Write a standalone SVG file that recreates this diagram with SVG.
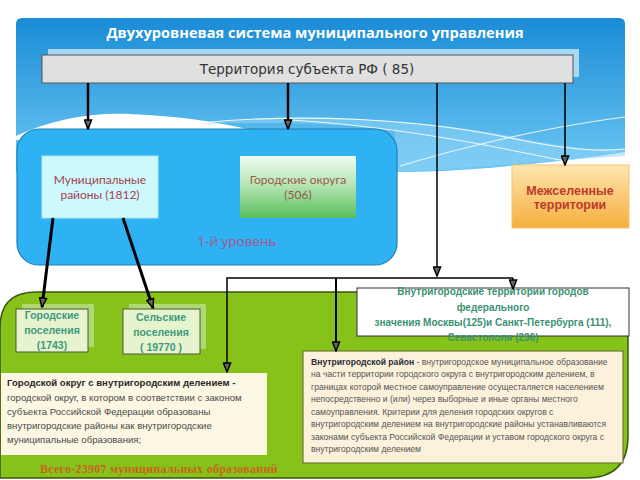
<svg xmlns="http://www.w3.org/2000/svg" width="640" height="480" viewBox="0 0 640 480">
<defs>
  <linearGradient id="sky" x1="0" y1="0" x2="0" y2="1">
    <stop offset="0" stop-color="#1a8cd6"/>
    <stop offset="1" stop-color="#6ec8f3"/>
  </linearGradient>
  <linearGradient id="gGreen" x1="0" y1="0" x2="0" y2="1">
    <stop offset="0" stop-color="#f0fbf0"/>
    <stop offset="0.45" stop-color="#b8e6b8"/>
    <stop offset="1" stop-color="#58bf5a"/>
  </linearGradient>
  <linearGradient id="gOrange" x1="0" y1="0" x2="0" y2="1">
    <stop offset="0" stop-color="#fde6b0"/>
    <stop offset="1" stop-color="#f6ae3c"/>
  </linearGradient>
  <marker id="arr" viewBox="0 0 12 10" refX="11" refY="5" markerWidth="11" markerHeight="9" markerUnits="userSpaceOnUse" orient="auto">
    <path d="M1,1 L11,5 L1,9 Z" fill="#666" stroke="#000" stroke-width="1.6" stroke-linejoin="miter"/>
  </marker>
  <style>
    .title{font-family:"Open Sans","Liberation Sans",sans-serif;font-weight:bold;font-size:14.6px;fill:#fff}
    .terr{font-family:"DejaVu Sans",sans-serif;font-size:13.5px;fill:#333}
    .lvl{font-family:Lato,"Open Sans",sans-serif;font-size:12px;fill:#a3424f}
    .lvlgo{font-family:Lato,"Open Sans",sans-serif;font-size:12px;fill:#9a5a4a}
    .lvl1{font-family:"Open Sans",sans-serif;font-size:13.5px;fill:#a8568a}
    .mezh{font-family:"Liberation Sans",Arial,sans-serif;font-weight:bold;font-size:12.5px;fill:#c0392b}
    .pos{font-family:"Liberation Sans",Arial,sans-serif;font-weight:bold;font-size:10.5px;fill:#3f9a7c}
    .vt{font-family:"Liberation Sans",Arial,sans-serif;font-weight:bold;font-size:10px;fill:#3a9272}
    .def{font-family:"Liberation Sans",Arial,sans-serif;font-size:9.6px;fill:#4a4a4a}
    .defb{font-weight:bold;fill:#2a2a2a}
    .small{font-family:"Liberation Sans",Arial,sans-serif;font-size:8.6px;fill:#555}
    .smallb{font-weight:bold;fill:#2a2a3a}
    .total{font-family:"Liberation Serif","Times New Roman",serif;font-weight:bold;font-size:12px;fill:#c6651c;letter-spacing:0.25px}
    .cn{fill:none;stroke:#000}
  </style>
</defs>

<rect x="0" y="0" width="640" height="480" fill="#fff"/>

<!-- sky background -->
<g id="background">
  <path d="M16,24 Q16,18 22,18 H619 Q625,18 625,24 V152 C590,158 520,166 460,170 C430,172 405,172 395,172 H16 Z" fill="url(#sky)"/>
  <path d="M16,136 C50,120 90,112 130,114 C180,116 220,122 260,132 L16,140 Z" fill="#fff"/>
  <path d="M200,124 C300,112 420,118 520,138 C560,146 600,152 625,150 V156 C560,160 470,168 395,172 L395,130 C330,122 260,122 200,124 Z" fill="#8fd3f5" opacity="0.55"/>
  <path d="M200,123 C300,113 420,118 520,140 C560,148 600,152 625,149" fill="none" stroke="#fff" stroke-width="1.2" opacity="0.9"/>
  <path d="M290,120 C360,124 440,136 500,148 C530,154 560,160 580,164" fill="none" stroke="#fff" stroke-width="1" opacity="0.85"/>
  <path d="M400,166 C460,148 540,128 625,117" fill="none" stroke="#fff" stroke-width="1" opacity="0.85"/>
</g>

<text class="title" x="315" y="38" text-anchor="middle">Двухуровневая система муниципального управления</text>

<g id="territory">
  <rect x="48" y="49" width="531" height="28" fill="#a9d8f5"/>
  <rect x="42" y="55" width="531" height="28" fill="#e0e0e0" stroke="#555" stroke-width="1"/>
  <text class="terr" x="307" y="74" text-anchor="middle">Территория субъекта РФ ( 85)</text>
</g>

<!-- green lower area -->
<g id="level2-area">
  <path d="M0,328 Q0,292 36,292 H628 V436 Q628,478 586,478 H0 Z" fill="#87c21a" stroke="#3e5410" stroke-width="1.5"/>
</g>

<g id="level1">
  <rect x="17" y="129" width="380" height="136" rx="22" fill="#2eb2f4" stroke="#1d7fb8" stroke-width="1.2"/>
  <text class="lvl1" x="237" y="246" text-anchor="middle">1-й уровень</text>
</g>

<g id="mun-rayony">
  <rect x="42" y="156" width="116" height="62" fill="#cdf8fc" stroke="#b0e8f0" stroke-width="1"/>
  <text class="lvl" x="100" y="184" text-anchor="middle">Муниципальные</text>
  <text class="lvl" x="100" y="199" text-anchor="middle">районы (1812)</text>
</g>

<g id="gor-okruga">
  <rect x="240" y="156" width="116" height="62" fill="url(#gGreen)"/>
  <text class="lvlgo" x="298" y="184" text-anchor="middle">Городские округа</text>
  <text class="lvlgo" x="298" y="199" text-anchor="middle">(506)</text>
</g>

<g id="mezhselennye">
  <rect x="512" y="165" width="117" height="63" fill="url(#gOrange)" stroke="#f7c46e" stroke-width="1"/>
  <text class="mezh" x="570" y="195" text-anchor="middle">Межселенные</text>
  <text class="mezh" x="570" y="209" text-anchor="middle">территории</text>
</g>

<g id="gor-poseleniya">
  <rect x="22" y="304" width="72" height="43" fill="#b9dd88" opacity="0.8"/>
  <rect x="16" y="309" width="72" height="43" fill="#e6f3cf" stroke="#4b5a33" stroke-width="1"/>
  <text class="pos" x="52" y="319" text-anchor="middle">Городские</text>
  <text class="pos" x="52" y="334" text-anchor="middle">поселения</text>
  <text class="pos" x="52" y="349" text-anchor="middle">(1743)</text>
</g>

<g id="sel-poseleniya">
  <rect x="129" y="304" width="77" height="45" fill="#b9dd88" opacity="0.8"/>
  <rect x="123" y="309" width="77" height="45" fill="#e6f3cf" stroke="#4b5a33" stroke-width="1"/>
  <text class="pos" x="161" y="321" text-anchor="middle">Сельские</text>
  <text class="pos" x="161" y="336" text-anchor="middle">поселения</text>
  <text class="pos" x="161" y="351" text-anchor="middle">( 19770 )</text>
</g>

<g id="vnutr-territorii">
  <rect x="357" y="288" width="272" height="48" fill="#fff" stroke="#333" stroke-width="1"/>
  <text class="vt" x="493" y="295" text-anchor="middle">Внутригородские территории городов</text>
  <text class="vt" x="493" y="311" text-anchor="middle">федерального</text>
  <text class="vt" x="493" y="326" text-anchor="middle">значения Москвы(125)и Санкт-Петербурга (111),</text>
  <text class="vt" x="493" y="341" text-anchor="middle">Севастополя (236)</text>
</g>

<g id="gor-okrug-def">
  <rect x="1" y="373" width="266" height="82" fill="#fcf7e2"/>
  <text class="def defb" x="7" y="386">Городской округ с внутригородским делением -</text>
  <text class="def" x="7" y="401">городской округ, в котором в соответствии с законом</text>
  <text class="def" x="7" y="415">субъекта Российской Федерации образованы</text>
  <text class="def" x="7" y="429">внутригородские районы как внутригородские</text>
  <text class="def" x="7" y="443">муниципальные образования;</text>
</g>

<g id="vnutr-rayon">
  <rect x="303" y="351" width="320" height="112" fill="#fcf2dc" stroke="#6f7a33" stroke-width="1.2"/>
  <text class="small" x="311" y="365"><tspan class="smallb">Внутригородской район</tspan> - внутригородское муниципальное образование</text>
  <text class="small" x="311" y="377">на части территории городского округа с внутригородским делением, в</text>
  <text class="small" x="311" y="390">границах которой местное самоуправление осущесталяется населением</text>
  <text class="small" x="311" y="402">непосредственно и (или) через выборные и иные органы местного</text>
  <text class="small" x="311" y="415">самоуправления. Критерии для деления городских округов с</text>
  <text class="small" x="311" y="427">внутригородским делением на внутригородские районы устанавливаются</text>
  <text class="small" x="311" y="440">законами субъекта Российской Федерации и уставом городского округа с</text>
  <text class="small" x="311" y="452">внутригородским делением</text>
</g>

<text class="total" x="40" y="473">Всего-23907  муниципальных образований</text>

<g id="connectors">
  <line class="cn" x1="88" y1="83" x2="88" y2="129" stroke-width="2.5" marker-end="url(#arr)"/>
  <line class="cn" x1="288" y1="83" x2="288" y2="129" stroke-width="2.5" marker-end="url(#arr)"/>
  <line class="cn" x1="565" y1="83" x2="565" y2="165" stroke-width="1.6" marker-end="url(#arr)"/>
  <line class="cn" x1="437" y1="83" x2="437" y2="276" stroke-width="1.5" marker-end="url(#arr)"/>
  <polyline class="cn" points="227,300 227,278 513,278" stroke-width="1.5"/>
  <line class="cn" x1="227" y1="300" x2="227" y2="372" stroke-width="1.5" marker-end="url(#arr)"/>
  <line class="cn" x1="513" y1="278" x2="513" y2="289" stroke-width="1.5" marker-end="url(#arr)"/>
  <line class="cn" x1="336" y1="278" x2="336" y2="351" stroke-width="2" marker-end="url(#arr)"/>
  <line class="cn" x1="53" y1="218" x2="42" y2="307" stroke-width="3" marker-end="url(#arr)"/>
  <line class="cn" x1="123" y1="218" x2="153" y2="308" stroke-width="3" marker-end="url(#arr)"/>
</g>
</svg>
